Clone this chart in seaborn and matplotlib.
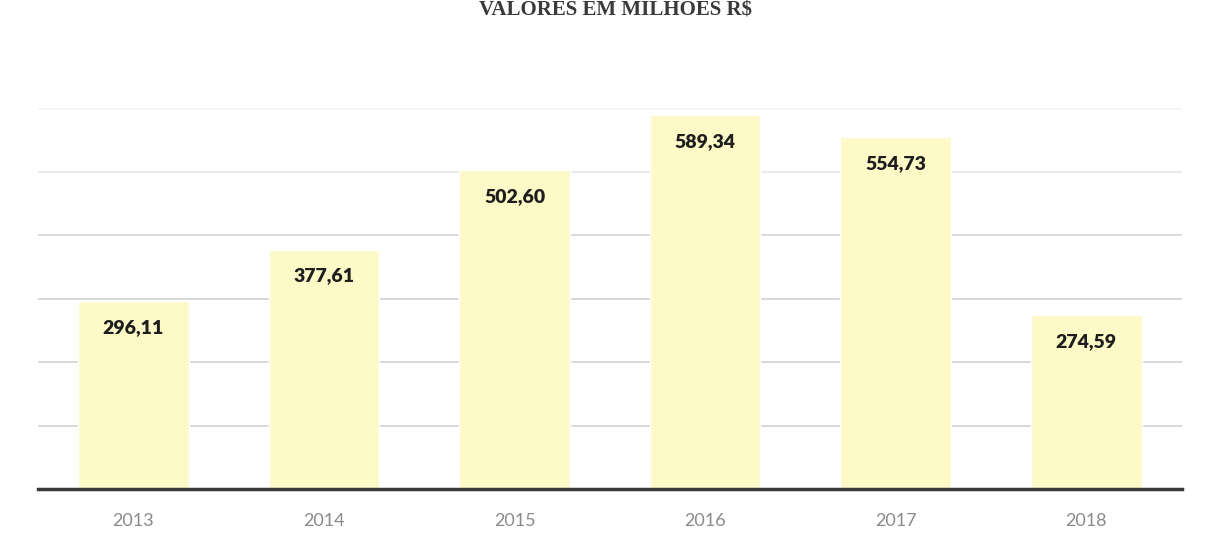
import numpy as np
import pandas as pd
import matplotlib
matplotlib.use("Agg")
import matplotlib.pyplot as plt
import seaborn as sns

# Dados (valores em milhões R$)
anos = ["2013", "2014", "2015", "2016", "2017", "2018"]
valores = [296.11, 377.61, 502.60, 589.34, 554.73, 274.59]
rotulos = ["296,11", "377,61", "502,60", "589,34", "554,73", "274,59"]
titulo = "VALORES EM MILHÕES R$"

df = pd.DataFrame({"ano": anos, "valor": valores})

sns.set_theme(style="white")
plt.rcParams['font.family'] = ['Lato', 'DejaVu Sans']

fig = plt.figure(figsize=(12.07, 5.44), dpi=100)
ax = fig.add_axes([0.0315, 0.101, 0.9475, 0.816])

# grid lines behind the bars (upper ones faded in the scan)
grid_cores = {100: '#d2d2d2', 200: '#d2d2d2', 300: '#d2d2d2', 400: '#d6d6d6',
              500: '#e8e8e8', 600: '#f3f3f3'}
for y, c in grid_cores.items():
    ax.axhline(y, color=c, linewidth=1.2, zorder=0)

sns.barplot(data=df, x="ano", y="valor", color="#fdfac8", saturation=1,
            width=0.58, ax=ax, zorder=2)

ax.set_ylim(0, 700)
ax.set_xlim(-0.5, 5.5)

# Add annotations inside bars
for p, txt in zip(ax.patches, rotulos):
    ax.annotate(txt, (p.get_x() + p.get_width() / 2, p.get_height()),
                xytext=(0, -19), textcoords='offset points',
                ha='center', va='center', fontsize=14, fontweight='heavy',
                color='#1e1e1e', zorder=3)

ax.set_yticks([])
ax.set_xlabel("")
ax.set_ylabel("")
ax.tick_params(axis='x', length=0, pad=17, labelsize=13, labelcolor='#8a8a8a')

sns.despine(ax=ax, left=True, top=True, right=True)
ax.spines['bottom'].set_color('#3a3a3a')
ax.spines['bottom'].set_linewidth(2.5)
ax.spines['bottom'].set_zorder(4)

fig.text(0.51, 0.999, titulo, ha='center', va='top', fontsize=15,
         fontweight='bold', family=['Liberation Serif', 'DejaVu Serif'],
         color='#3a3a3a')

fig.savefig("out.png", dpi=100, facecolor='white')
